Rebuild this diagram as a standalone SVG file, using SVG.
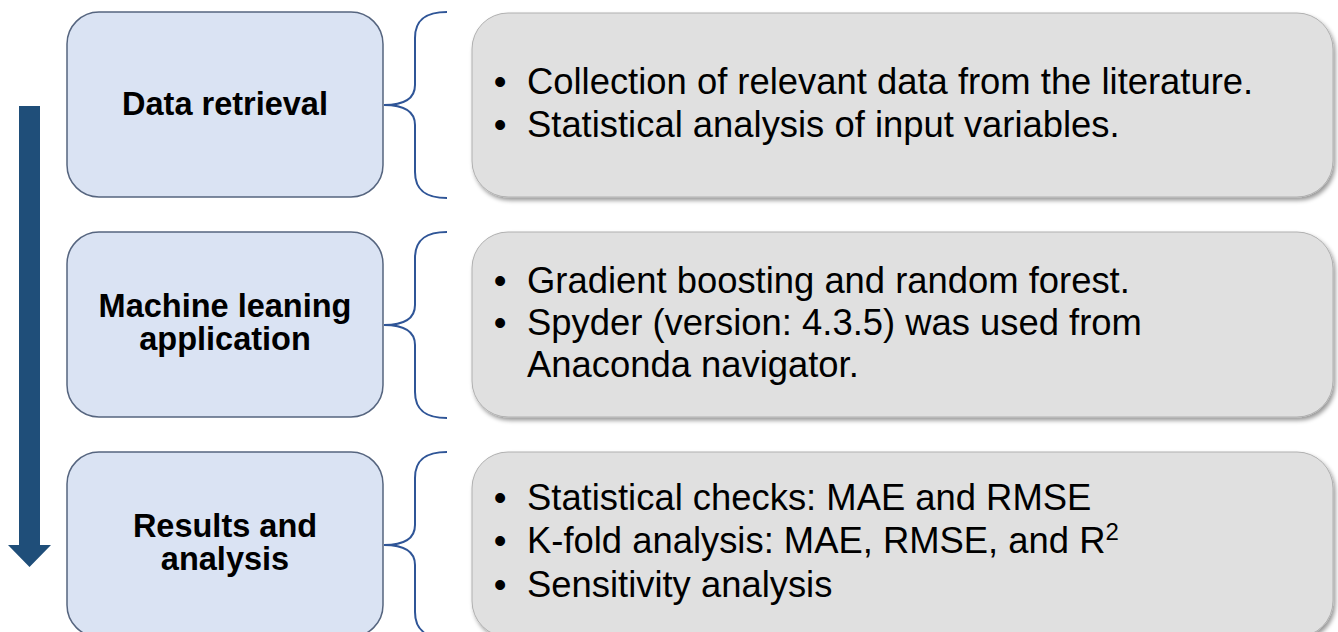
<svg xmlns="http://www.w3.org/2000/svg" width="1338" height="632" viewBox="0 0 1338 632">
<style>
.step{fill:#dae3f3;stroke:#56657f;stroke-width:1.5}
.detail{fill:#e0e0e0;stroke:#b0b0b0;stroke-width:1;filter:url(#sh)}
.lbl{font-family:"Liberation Sans",Arial,sans-serif;font-weight:bold;font-size:32.5px;fill:#000;text-anchor:middle}
.txt{font-family:"Liberation Sans",Arial,sans-serif;font-size:36.4px;fill:#000}
.bul{font-family:"Liberation Sans",Arial,sans-serif;font-size:36.4px;fill:#000;text-anchor:middle}
.brace{fill:none;stroke:#2f5597;stroke-width:2}
</style>
<defs>
<filter id="sh" x="-5%" y="-10%" width="110%" height="125%">
<feDropShadow dx="2" dy="3" stdDeviation="2" flood-color="#000" flood-opacity="0.4"/>
</filter>
</defs>
<rect width="1338" height="632" fill="#fff"/>
<g id="flow-arrow">
<path d="M19,106 H40 V545 H51 L29.5,567 L8,545 H19 Z" fill="#1f4e79"/>
</g>
<g id="connectors">
<path class="brace" d="M447,12 C428,12 415,18 415,38 L415,85 C415,98 405,105 384,105 C405,105 415,112 415,125 L415,172 C415,192 428,198 447,198"/>
<path class="brace" d="M447,232 C428,232 415,238 415,258 L415,305 C415,318 405,325 384,325 C405,325 415,332 415,345 L415,392 C415,412 428,418 447,418"/>
<path class="brace" d="M447,452 C428,452 415,458 415,478 L415,525 C415,538 405,545 384,545 C405,545 415,552 415,565 L415,612 C415,632 428,638 447,638"/>
</g>
<g id="step-data-retrieval">
<rect class="step" x="67" y="12" width="316" height="185" rx="32"/>
<text class="lbl" x="225" y="115">Data retrieval</text>
</g>
<g id="step-machine-learning">
<rect class="step" x="67" y="232" width="316" height="185" rx="32"/>
<text class="lbl" x="225" y="317">Machine leaning</text>
<text class="lbl" x="225" y="350">application</text>
</g>
<g id="step-results">
<rect class="step" x="67" y="452" width="316" height="185" rx="32"/>
<text class="lbl" x="225" y="537">Results and</text>
<text class="lbl" x="225" y="570">analysis</text>
</g>
<g id="detail-data-retrieval">
<rect class="detail" x="472" y="13" width="861" height="184" rx="36"/>
<text class="bul" x="500" y="94">•</text>
<text class="txt" x="527" y="94">Collection of relevant data from the literature.</text>
<text class="bul" x="500" y="137">•</text>
<text class="txt" x="527" y="137">Statistical analysis of input variables.</text>
</g>
<g id="detail-machine-learning">
<rect class="detail" x="472" y="232" width="861" height="185" rx="36"/>
<text class="bul" x="500" y="293">•</text>
<text class="txt" x="527" y="293">Gradient boosting and random forest.</text>
<text class="bul" x="500" y="335">•</text>
<text class="txt" x="527" y="335">Spyder (version: 4.3.5) was used from</text>
<text class="txt" x="527" y="377">Anaconda navigator.</text>
</g>
<g id="detail-results">
<rect class="detail" x="472" y="452" width="861" height="185" rx="36"/>
<text class="bul" x="500" y="510">•</text>
<text class="txt" x="527" y="510">Statistical checks: MAE and RMSE</text>
<text class="bul" x="500" y="553">•</text>
<text class="txt" x="527" y="553">K-fold analysis: MAE, RMSE, and R<tspan font-size="24" dy="-13">2</tspan></text>
<text class="bul" x="500" y="597">•</text>
<text class="txt" x="527" y="597">Sensitivity analysis</text>
</g>
</svg>
